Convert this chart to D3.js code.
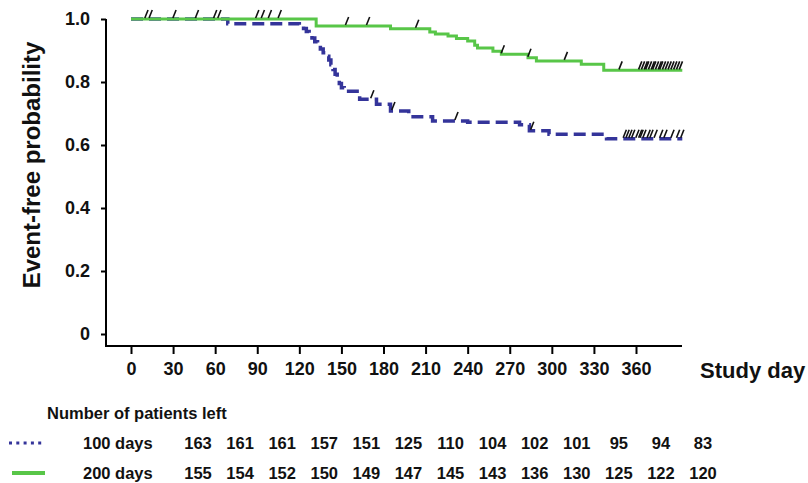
<!DOCTYPE html>
<html>
<head>
<meta charset="utf-8">
<script src="https://cdn.jsdelivr.net/npm/d3@7"></script>
<style>
  html, body { margin: 0; padding: 0; background: #fff; }
  svg { display: block; font-family: "Liberation Sans", Arial, sans-serif; font-weight: bold; }
</style>
</head>
<body>
<svg id="chart" width="808" height="483"></svg>
<script>
// ---- data ----
const xTicks = [0, 30, 60, 90, 120, 150, 180, 210, 240, 270, 300, 330, 360];
const yTicks = [0, 0.2, 0.4, 0.6, 0.8, 1.0];
const yTickLabels = ["0", "0.2", "0.4", "0.6", "0.8", "1.0"];

// 100 days group (blue dashed)
const blueTimes = [0, 69, 120, 123, 125, 127, 129, 131, 133, 135, 137, 139, 141, 142.5, 144, 145.5, 147, 148.5, 150, 152, 163, 175, 185, 198, 215, 240, 277, 284, 298, 339, 393];
const blueSurv  = [1.0, 0.985, 0.978, 0.97, 0.96, 0.95, 0.94, 0.928, 0.916, 0.905, 0.893, 0.882, 0.87, 0.855, 0.84, 0.825, 0.81, 0.795, 0.782, 0.771, 0.745, 0.729, 0.708, 0.69, 0.676, 0.672, 0.664, 0.645, 0.634, 0.62, 0.62];
const blueCensor = [172, 187, 232, 286, 352, 354, 356, 358, 361, 363, 364, 366, 369, 371, 374, 378, 381, 386, 390, 393];

// 200 days group (green solid)
const greenTimes = [0, 132, 185, 213, 217, 226, 232, 240, 245, 247, 258, 264, 283, 289, 321, 337, 393];
const greenSurv  = [1.0, 0.978, 0.969, 0.959, 0.952, 0.946, 0.938, 0.930, 0.917, 0.908, 0.898, 0.888, 0.877, 0.867, 0.856, 0.837, 0.837];
const greenCensor = [11, 14, 31, 47, 60, 63, 90, 94, 99, 106, 154, 169, 204, 265, 284, 310, 349, 363, 365, 367, 368, 370, 372, 373, 375, 377, 378, 380, 382, 384, 386, 388, 390, 392];

const groupLabels = ["100 days", "200 days"];
const atRisk100 = [163, 161, 161, 157, 151, 125, 110, 104, 102, 101, 95, 94, 83];
const atRisk200 = [155, 154, 152, 150, 149, 147, 145, 143, 136, 130, 125, 122, 120];

const blueColor = "#34349a";
const greenColor = "#58c648";

// ---- scales ----
const svg = d3.select("#chart");
const x = d3.scaleLinear().domain([0, 360]).range([131, 636]);
const y = d3.scaleLinear().domain([0, 1]).range([334, 19]);
const axisX0 = 106, axisY0 = 346, axisXEnd = 682;

// ---- axes ----
const yAxis = d3.axisLeft(y).tickValues(yTicks)
  .tickFormat((d, i) => yTickLabels[i]).tickSize(5).tickPadding(11);
const gy = svg.append("g").attr("transform", `translate(${axisX0},0)`).call(yAxis);
gy.select(".domain").remove();
gy.selectAll(".tick line").attr("stroke", "#000").attr("stroke-width", 2);
gy.selectAll(".tick text").attr("font-size", 18).attr("font-weight", "bold").attr("fill", "#111")
  .attr("font-family", "Liberation Sans, Arial, sans-serif");

const xAxis = d3.axisBottom(x).tickValues(xTicks).tickSize(8).tickPadding(8.5);
const gx = svg.append("g").attr("transform", `translate(0,${axisY0})`).call(xAxis);
gx.select(".domain").remove();
gx.selectAll(".tick line").attr("stroke", "#000").attr("stroke-width", 2);
gx.selectAll(".tick text").attr("font-size", 18).attr("font-weight", "bold").attr("fill", "#111")
  .attr("font-family", "Liberation Sans, Arial, sans-serif");

// axis lines
svg.append("path")
  .attr("d", `M${axisX0},${y(1)}V${axisY0}H${axisXEnd}`)
  .attr("fill", "none").attr("stroke", "#000").attr("stroke-width", 2);

// axis titles
svg.append("text")
  .attr("transform", `translate(40,${165}) rotate(-90)`)
  .attr("text-anchor", "middle")
  .attr("font-size", 24).attr("fill", "#111")
  .text("Event-free probability");

svg.append("text")
  .attr("x", 700).attr("y", 378)
  .attr("font-size", 22).attr("fill", "#111")
  .text("Study day");

// ---- curves ----
const line = d3.line().curve(d3.curveStepAfter).x(d => x(d[0])).y(d => y(d[1]));
const blueData = blueTimes.map((t, i) => [t, blueSurv[i]]);
const greenData = greenTimes.map((t, i) => [t, greenSurv[i]]);

svg.append("path").datum(blueData).attr("d", line)
  .attr("fill", "none").attr("stroke", blueColor).attr("stroke-width", 3.5)
  .attr("stroke-dasharray", "12,6");

svg.append("path").datum(greenData).attr("d", line)
  .attr("fill", "none").attr("stroke", greenColor).attr("stroke-width", 3);

function survAt(times, surv, t) {
  const i = d3.bisectRight(times, t) - 1;
  return surv[Math.max(0, i)];
}
function censorMarks(times, surv, cens) {
  svg.append("g").selectAll("path").data(cens).join("path")
    .attr("d", t => {
      const cx = x(t), cy = y(survAt(times, surv, t));
      return `M${cx - 1.6},${cy - 1}L${cx + 1.6},${cy - 9}`;
    })
    .attr("stroke", "#111").attr("stroke-width", 1.6).attr("fill", "none");
}
censorMarks(blueTimes, blueSurv, blueCensor);
censorMarks(greenTimes, greenSurv, greenCensor);

// ---- number at risk table ----
svg.append("text").attr("x", 47).attr("y", 419)
  .attr("font-size", 16.5).attr("fill", "#111")
  .text("Number of patients left");

const rowsY = [443, 473];
const colX = i => x(xTicks[i]) + 67;

// legend samples
svg.append("line").attr("x1", 9).attr("x2", 45).attr("y1", rowsY[0]).attr("y2", rowsY[0])
  .attr("stroke", blueColor).attr("stroke-width", 3).attr("stroke-dasharray", "3,4.3");
svg.append("line").attr("x1", 12).attr("x2", 45).attr("y1", rowsY[1]).attr("y2", rowsY[1])
  .attr("stroke", greenColor).attr("stroke-width", 4);

[atRisk100, atRisk200].forEach((row, r) => {
  svg.append("text").attr("x", 83).attr("y", rowsY[r] + 6)
    .attr("font-size", 16.5).attr("fill", "#111").text(groupLabels[r]);
  svg.append("g").selectAll("text").data(row).join("text")
    .attr("x", (d, i) => colX(i)).attr("y", rowsY[r] + 6)
    .attr("text-anchor", "middle").attr("font-size", 16.5).attr("fill", "#111")
    .text(d => d);
});
</script>
</body>
</html>
